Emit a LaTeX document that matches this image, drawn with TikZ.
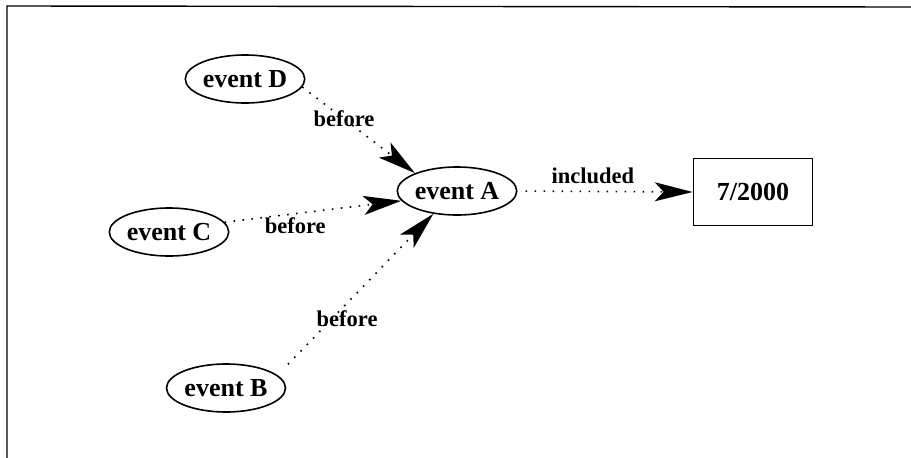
\documentclass[tikz,border=0pt]{standalone}
\usepackage{fontspec}
\setmainfont{Liberation Serif}
\usetikzlibrary{arrows.meta,shapes}
\tikzset{
  event/.style={
    % The shape:
    ellipse,
    % The size:
    minimum width=119pt,
    minimum height=48pt,
    inner sep=0pt,
    % The border:
    line width=1.6pt,
    draw=black,
    % The text:
    font=\fontsize{26}{30}\selectfont\bfseries},
  period/.style={
    % The shape:
    rectangle,
    minimum width=119pt,
    minimum height=67pt,
    % The rest
    line width=1.6pt,draw=black,
    font=\fontsize{26}{30}\selectfont\bfseries},
  relation/.style={
    % dotted line, big filled head
    line width=1.6pt,
    dash pattern=on 1.6pt off 7.4pt,
    -{Stealth[length=38pt,width=19pt,inset=9pt]}},
  rellabel/.style={
    inner sep=0pt,
    font=\fontsize{22.5}{26}\selectfont\bfseries}
}

\begin{document}
\begin{tikzpicture}[x=1pt,y=-1pt]
  \useasboundingbox (0,0) rectangle (911,458);

  % frame
  \draw[line width=1.4pt] (7,458) -- (7,6) -- (911,7);

  % events
  \node (D) [event] at (245,79)  {event D};
  \node (A) [event] at (457,191) {event A};
  \node (C) [event] at (169,232) {event C};
  \node (B) [event] at (226,388) {event B};
  % time
  \node (T) [period] at (753,192) {7/2000};

  % relations
  \draw[relation] (D.-8) -- (A.157)
    node[rellabel,pos=0.37] {before};
  \draw[relation] (C.10) -- (A.190)
    node[rellabel,pos=0.40,yshift=-12pt] {before};
  \draw[relation,shorten <=15pt] (B.14) -- (A.224)
    node[rellabel,pos=0.35,xshift=15pt] {before};
  \draw[relation,shorten <=8pt] (A.east) -- (T.west)
    node[rellabel,pos=0.43,yshift=16pt] {included};

\end{tikzpicture}
\end{document}
